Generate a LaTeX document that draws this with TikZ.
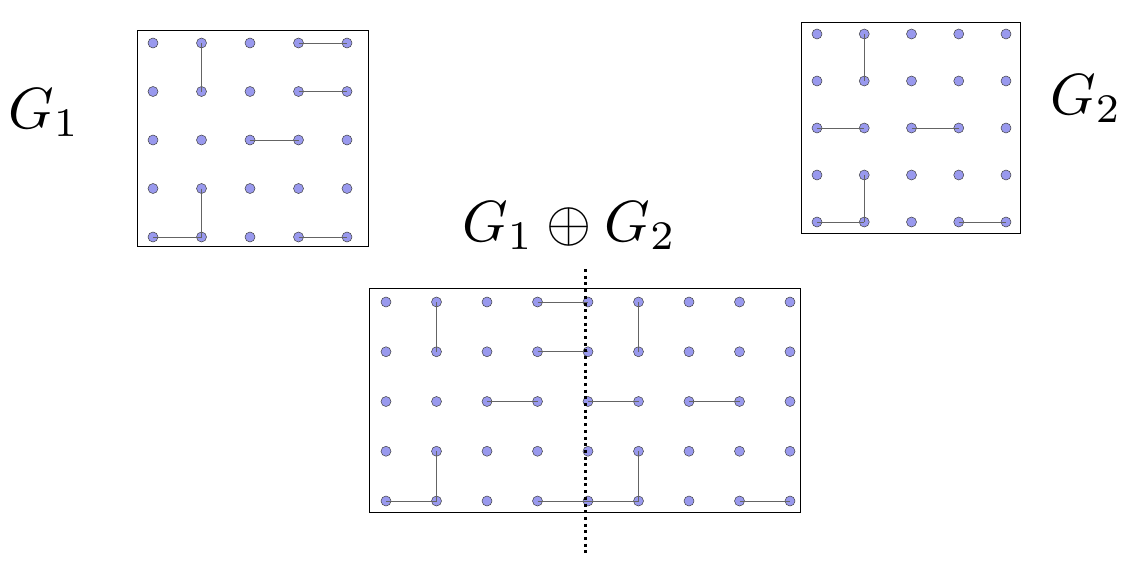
\documentclass[tikz,border=0pt]{standalone}
\usepackage{tikz}
\definecolor{dotfill}{RGB}{153,153,238}
\definecolor{edgecol}{RGB}{100,100,100}
\newcommand{\biglab}[1]{\scalebox{5.8}{#1}}
\tikzset{
  vtx/.style={circle,draw=black!75,fill=dotfill,line width=0.5pt,inner sep=0pt,minimum size=10pt},
  edg/.style={draw=edgecol,line width=0.9pt},
  frame/.style={draw=black,line width=0.7pt},
  biglabel/.style={inner sep=0pt,anchor=base west},
  sep/.style={line width=3pt,dash pattern=on 3pt off 3.7pt}
}
\begin{document}
\begin{tikzpicture}[x=1pt,y=-1pt]
\useasboundingbox (0,0) rectangle (1129,570);
% frames
\draw[frame] (137,30) rectangle (368,246);
\draw[frame] (801,22) rectangle (1020,233);
\draw[frame] (369,288) rectangle (800,512);
% labels
\node[biglabel] (l1) at (8,128) {\biglab{$G_1$}};
\node[biglabel] (l2) at (1050,114) {\biglab{$G_2$}};
\node[biglabel] (l3) at (462,241) {\biglab{$G_1\oplus G_2$}};
% G1 vertices
\foreach \i in {0,...,4}{\foreach \j in {0,...,4}{
  \node[vtx] (a-\i-\j) at ({153+48.5*\i},{43+48.5*\j}) {};}}
% G2 vertices
\foreach \i in {0,...,4}{\foreach \j in {0,...,4}{
  \node[vtx] (b-\i-\j) at ({817+47.25*\i},{34+47*\j}) {};}}
% combined vertices
\foreach \i in {0,...,8}{\foreach \j in {0,...,4}{
  \node[vtx] (c-\i-\j) at ({386+50.5*\i},{302+49.75*\j}) {};}}
% G1 edges
\draw[edg] (a-3-0.center) -- (a-4-0.center);
\draw[edg] (a-1-0.center) -- (a-1-1.center);
\draw[edg] (a-3-1.center) -- (a-4-1.center);
\draw[edg] (a-2-2.center) -- (a-3-2.center);
\draw[edg] (a-1-3.center) -- (a-1-4.center);
\draw[edg] (a-0-4.center) -- (a-1-4.center);
\draw[edg] (a-3-4.center) -- (a-4-4.center);
% G2 edges
\draw[edg] (b-1-0.center) -- (b-1-1.center);
\draw[edg] (b-0-2.center) -- (b-1-2.center);
\draw[edg] (b-2-2.center) -- (b-3-2.center);
\draw[edg] (b-1-3.center) -- (b-1-4.center);
\draw[edg] (b-0-4.center) -- (b-1-4.center);
\draw[edg] (b-3-4.center) -- (b-4-4.center);
% combined edges
\draw[edg] (c-3-0.center) -- (c-4-0.center);
\draw[edg] (c-1-0.center) -- (c-1-1.center);
\draw[edg] (c-3-1.center) -- (c-4-1.center);
\draw[edg] (c-2-2.center) -- (c-3-2.center);
\draw[edg] (c-1-3.center) -- (c-1-4.center);
\draw[edg] (c-0-4.center) -- (c-1-4.center);
\draw[edg] (c-3-4.center) -- (c-4-4.center);
\draw[edg] (c-5-0.center) -- (c-5-1.center);
\draw[edg] (c-4-2.center) -- (c-5-2.center);
\draw[edg] (c-6-2.center) -- (c-7-2.center);
\draw[edg] (c-5-3.center) -- (c-5-4.center);
\draw[edg] (c-4-4.center) -- (c-5-4.center);
\draw[edg] (c-7-4.center) -- (c-8-4.center);
% separator
\coordinate (s1) at (585,269);
\coordinate (s2) at (585,556);
\draw[sep] (s1) -- (s2);
\end{tikzpicture}
\end{document}
